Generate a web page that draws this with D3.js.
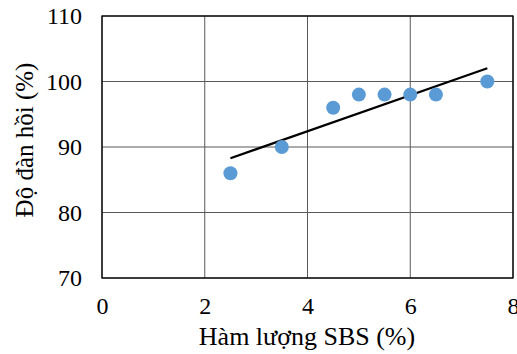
<!DOCTYPE html>
<html>
<head>
<meta charset="utf-8">
<script src="https://cdn.jsdelivr.net/npm/d3@7"></script>
<style>
  body { margin: 0; background: #fff; }
</style>
</head>
<body>
<div id="chart"></div>
<script>
// data
var sbs = [2.5, 3.5, 4.5, 5, 5.5, 6, 6.5, 7.5];
var doDanHoi = [86, 90, 96, 98, 98, 98, 98, 100];
var xTicks = [0, 2, 4, 6, 8];
var yTicks = [70, 80, 90, 100, 110];

var serif = "'Liberation Serif', 'Times New Roman', serif";

var svgWidth = 517, svgHeight = 354;
var margin = { top: 16, right: 4, bottom: 76, left: 102 };
var width = svgWidth - margin.left - margin.right;
var height = svgHeight - margin.top - margin.bottom;

var svg = d3.select("#chart").append("svg")
  .attr("width", svgWidth)
  .attr("height", svgHeight);

var g = svg.append("g")
  .attr("transform", "translate(" + margin.left + "," + margin.top + ")");

var x = d3.scaleLinear().domain([0, 8]).range([0, width]);
var y = d3.scaleLinear().domain([70, 110]).range([height, 0]);

// grid
g.append("g")
  .selectAll("line.v")
  .data(xTicks)
  .enter().append("line")
  .attr("x1", d => x(d)).attr("x2", d => x(d))
  .attr("y1", 0).attr("y2", height)
  .attr("stroke", "#595959").attr("stroke-width", 1);

g.append("g")
  .selectAll("line.h")
  .data(yTicks)
  .enter().append("line")
  .attr("x1", 0).attr("x2", width)
  .attr("y1", d => y(d)).attr("y2", d => y(d))
  .attr("stroke", "#595959").attr("stroke-width", 1);

// border
g.append("rect")
  .attr("x", 0).attr("y", 0)
  .attr("width", width).attr("height", height)
  .attr("fill", "none").attr("stroke", "#000").attr("stroke-width", 1.3);

// axes (labels only)
var xAxis = g.append("g")
  .attr("transform", "translate(0," + height + ")")
  .call(d3.axisBottom(x).tickValues(xTicks).tickSize(0).tickPadding(19));
xAxis.select(".domain").remove();
xAxis.attr("font-family", null).attr("font-size", null);
xAxis.selectAll("text")
  .style("font-family", serif).style("font-size", "24px").style("fill", "#000");

var yAxis = g.append("g")
  .call(d3.axisLeft(y).tickValues(yTicks).tickSize(0).tickPadding(20));
yAxis.select(".domain").remove();
yAxis.attr("font-family", null).attr("font-size", null);
yAxis.selectAll("text")
  .style("font-family", serif).style("font-size", "24px").style("fill", "#000");

// linear trend
var mx = d3.mean(sbs), my = d3.mean(doDanHoi);
var sxy = d3.sum(sbs, (d, i) => (d - mx) * (doDanHoi[i] - my));
var sxx = d3.sum(sbs, d => (d - mx) * (d - mx));
var slope = sxy / sxx, icpt = my - slope * mx;
var trendX = d3.extent(sbs);

var line = d3.line()
  .x(d => x(d))
  .y(d => y(icpt + slope * d));

g.append("path")
  .datum(trendX)
  .attr("fill", "none")
  .attr("stroke", "#000")
  .attr("stroke-width", 2.2)
  .attr("d", line);

// points
g.selectAll("circle")
  .data(sbs)
  .enter().append("circle")
  .attr("cx", d => x(d))
  .attr("cy", (d, i) => y(doDanHoi[i]))
  .attr("r", 7)
  .attr("fill", "#5B9BD5");

// titles
svg.append("text")
  .attr("x", 307).attr("y", 345)
  .attr("text-anchor", "middle")
  .style("font-family", serif).style("font-size", "26px")
  .text("Hàm lượng SBS (%)");

svg.append("text")
  .attr("transform", "translate(33,140) rotate(-90)")
  .attr("text-anchor", "middle")
  .style("font-family", serif).style("font-size", "25px")
  .text("Độ đàn hồi (%)");
</script>
</body>
</html>
